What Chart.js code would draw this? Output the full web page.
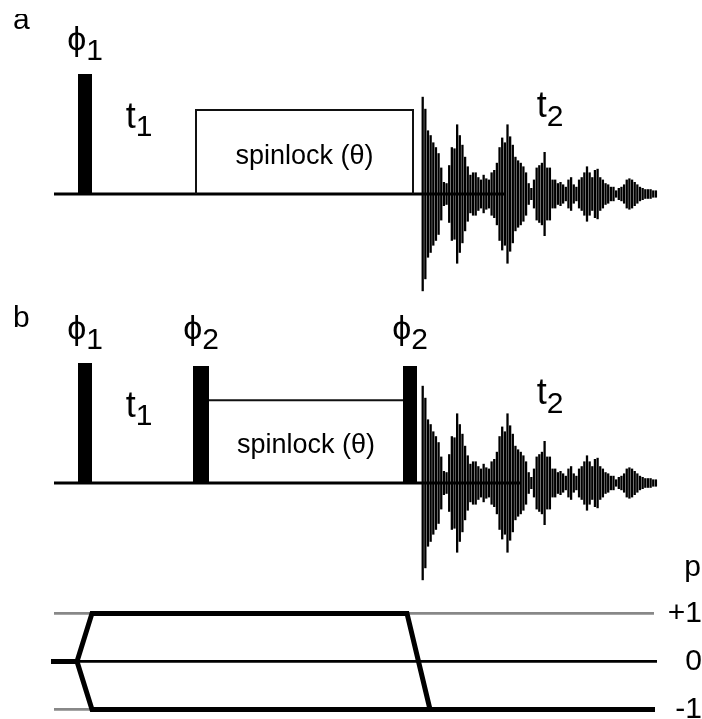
<!DOCTYPE html>
<html>
<head>
<meta charset="utf-8">
<script src="https://cdn.jsdelivr.net/npm/chart.js@4.4.1/dist/chart.umd.min.js"></script>
<style>
  html, body { margin: 0; padding: 0; background: #fff; }
  #fig { position: relative; width: 702px; height: 719px; overflow: hidden; }
  #fig canvas { position: absolute; left: 0; }
</style>
</head>
<body>
<div id="fig">
  <canvas id="seqA" width="702" height="300" style="top:14px"></canvas>
  <canvas id="seqB" width="702" height="300" style="top:303px"></canvas>
  <canvas id="coh" width="702" height="169" style="top:550px"></canvas>
</div>
<script>
// time axis in arbitrary units, 0 = start of the sequence
const T_MIN = -54, T_MAX = 648;

// rf pulses: [start, end, amplitude]
const pulsesA = [[24, 38, 1]];
const pulsesB = [[24, 38, 1], [139, 155, 0.975], [349, 363, 0.975]];

// spin-lock block: [start, end, field level]
const spinlockA = [142, 359, 0.7];
const spinlockB = [155, 349, 0.69];

// end of the drawn baseline
const baselineEndA = 451;
const baselineEndB = 466;

// acquisition: first sample time, dwell, half-height of each sample
const fidStart = 368.7;
const fidDwell = 2.65;
const fidAmp = [
  0.81, 0.71, 0.53, 0.49, 0.43, 0.39, 0.34, 0.22, 0.10, 0.09,
  0.24, 0.39, 0.38, 0.58, 0.49, 0.41, 0.31, 0.23, 0.16, 0.18,
  0.18, 0.14, 0.12, 0.16, 0.13, 0.12, 0.18, 0.20, 0.26, 0.39,
  0.47, 0.43, 0.58, 0.48, 0.41, 0.31, 0.28, 0.26, 0.23, 0.18,
  0.09, 0.05, 0.12, 0.22, 0.24, 0.26, 0.35, 0.22, 0.22, 0.12,
  0.12, 0.09, 0.10, 0.08, 0.06, 0.12, 0.14, 0.08, 0.06, 0.12,
  0.14, 0.18, 0.23, 0.18, 0.14, 0.20, 0.21, 0.14, 0.12, 0.09,
  0.08, 0.06, 0.06, 0.03, 0.05, 0.06, 0.08, 0.12, 0.13, 0.12,
  0.10, 0.08, 0.06, 0.05, 0.04, 0.04, 0.04, 0.03, 0.03
];

// coherence order diagram
const cohLevels = [1, 0, -1];
const cohLevelLabels = ['+1', '0', '-1'];
const cohSpan = [0, 600];
const cohZeroSpan = [-3, 603];
const pathUpper = [[-3, 0], [23, 0], [38, 1], [353, 1], [376, -1], [601, -1]];
const pathLower = [[23, 0], [38, -1], [376, -1]];

const FONT = '"Liberation Sans", Arial, Helvetica, sans-serif';
const PHI = 'ϕ';

// text drawn in data coordinates, with an optional lowered subscript
function textLayer(items) {
  return {
    id: 'textLayer',
    afterDatasetsDraw(chart) {
      const { ctx, scales: { x, y } } = chart;
      ctx.save();
      ctx.fillStyle = '#000';
      ctx.textAlign = 'left';
      items.forEach(it => {
        const px = x.getPixelForValue(it.t);
        const py = y.getPixelForValue(it.v);
        ctx.font = it.size + 'px ' + FONT;
        const w = ctx.measureText(it.text).width;
        let sw = 0;
        if (it.sub) {
          ctx.font = it.subSize + 'px ' + FONT;
          sw = ctx.measureText(it.sub).width;
        }
        const total = w + sw;
        const left = it.align === 'left' ? px : it.align === 'right' ? px - total : px - total / 2;
        ctx.textBaseline = it.baseline || 'alphabetic';
        ctx.font = it.size + 'px ' + FONT;
        ctx.fillText(it.text, left, py);
        if (it.sub) {
          ctx.font = it.subSize + 'px ' + FONT;
          ctx.fillText(it.sub, left + w, py + it.drop);
        }
      });
      ctx.restore();
    }
  };
}

function pulsePoints(pulses) {
  const pts = [];
  pulses.forEach(([s, e, h]) => {
    pts.push({ x: s, y: 0 }, { x: s, y: h }, { x: e, y: h }, { x: e, y: 0 });
  });
  return pts;
}

function fidBars() {
  return fidAmp.map((a, i) => ({ x: fidStart + i * fidDwell, y: [-a, a] }));
}

const lineBase = { type: 'line', pointRadius: 0, tension: 0, borderCapStyle: 'butt', borderJoinStyle: 'miter', fill: false, clip: false };

function baseOptions(yMin, yMax) {
  return {
    responsive: false,
    animation: false,
    events: [],
    layout: { padding: 0 },
    plugins: { legend: { display: false }, tooltip: { enabled: false } },
    scales: {
      x: { type: 'linear', min: T_MIN, max: T_MAX, bounds: 'data', offset: false, display: false },
      y: { type: 'linear', min: yMin, max: yMax, bounds: 'data', display: false }
    }
  };
}

function seqChart(id, pulses, spinlockData, baselineEnd, items) {
  return new Chart(document.getElementById(id), {
    type: 'line',
    data: {
      datasets: [
        { ...lineBase, label: 'pulses', data: pulsePoints(pulses), borderWidth: 0,
          backgroundColor: '#000', fill: 'origin' },
        { ...lineBase, label: 'spinlock', data: spinlockData, borderWidth: 2, borderColor: '#111' },
        { ...lineBase, label: 'baseline', data: [{ x: 0, y: 0 }, { x: baselineEnd, y: 0 }],
          borderWidth: 3, borderColor: '#000' },
        { type: 'bar', label: 'fid', data: fidBars(), backgroundColor: '#000', borderWidth: 0,
          barThickness: 2.3, inflateAmount: 0 }
      ]
    },
    options: baseOptions(-1, 1.5),
    plugins: [textLayer(items)]
  });
}

const phiLabel = (sub, t) => ({ text: PHI, sub, t, v: 1.2, size: 34, subSize: 30, drop: 10 });

const [slaS, slaE, slaL] = spinlockA;
seqChart('seqA', pulsesA,
  [{ x: slaS, y: 0 }, { x: slaS, y: slaL }, { x: slaE, y: slaL }, { x: slaE, y: 0 }],
  baselineEndA,
  [
    { text: 'a', t: -41, v: 1.375, size: 30, align: 'left' },
    phiLabel('1', (pulsesA[0][0] + pulsesA[0][1]) / 2),
    { text: 't', sub: '1', t: 85, v: 0.55, size: 36, subSize: 30, drop: 8 },
    { text: 'spinlock (θ)', t: (slaS + slaE) / 2, v: 0.31, size: 27, baseline: 'middle' },
    { text: 't', sub: '2', t: 496, v: 0.64, size: 36, subSize: 30, drop: 9 }
  ]);

const [slbS, slbE, slbL] = spinlockB;
seqChart('seqB', pulsesB,
  [{ x: slbS, y: slbL }, { x: slbE, y: slbL }],
  baselineEndB,
  [
    { text: 'b', t: -41, v: 1.3, size: 30, align: 'left' },
    phiLabel('1', (pulsesB[0][0] + pulsesB[0][1]) / 2),
    phiLabel('2', (pulsesB[1][0] + pulsesB[1][1]) / 2),
    phiLabel('2', (pulsesB[2][0] + pulsesB[2][1]) / 2),
    { text: 't', sub: '1', t: 85, v: 0.55, size: 36, subSize: 30, drop: 8 },
    { text: 'spinlock (θ)', t: (slbS + slbE) / 2, v: 0.31, size: 27, baseline: 'middle' },
    { text: 't', sub: '2', t: 496, v: 0.66, size: 36, subSize: 30, drop: 9 }
  ]);

// coherence pathway panel
const toXY = arr => arr.map(([x, y]) => ({ x, y }));
const cohItems = cohLevels.map((lv, i) => ({
  text: cohLevelLabels[i], t: 648, v: lv, size: 30, align: 'right', baseline: 'middle'
}));
cohItems.push({ text: 'p', t: 647, v: 1.78, size: 30, align: 'right' });

new Chart(document.getElementById('coh'), {
  type: 'line',
  data: {
    datasets: [
      { ...lineBase, label: 'upper', data: toXY(pathUpper), borderWidth: 5, borderColor: '#000' },
      { ...lineBase, label: 'lower', data: toXY(pathLower), borderWidth: 5, borderColor: '#000' },
      { ...lineBase, label: 'zero', data: [{ x: cohZeroSpan[0], y: 0 }, { x: cohZeroSpan[1], y: 0 }],
        borderWidth: 2.6, borderColor: '#000' },
      { ...lineBase, label: 'plus', data: [{ x: cohSpan[0], y: 1 }, { x: cohSpan[1], y: 1 }],
        borderWidth: 2.6, borderColor: '#888' },
      { ...lineBase, label: 'minus', data: [{ x: cohSpan[0], y: -1 }, { x: cohSpan[1], y: -1 }],
        borderWidth: 2.6, borderColor: '#888' }
    ]
  },
  options: baseOptions(-1.2, 2.32),
  plugins: [textLayer(cohItems)]
});
</script>
</body>
</html>
